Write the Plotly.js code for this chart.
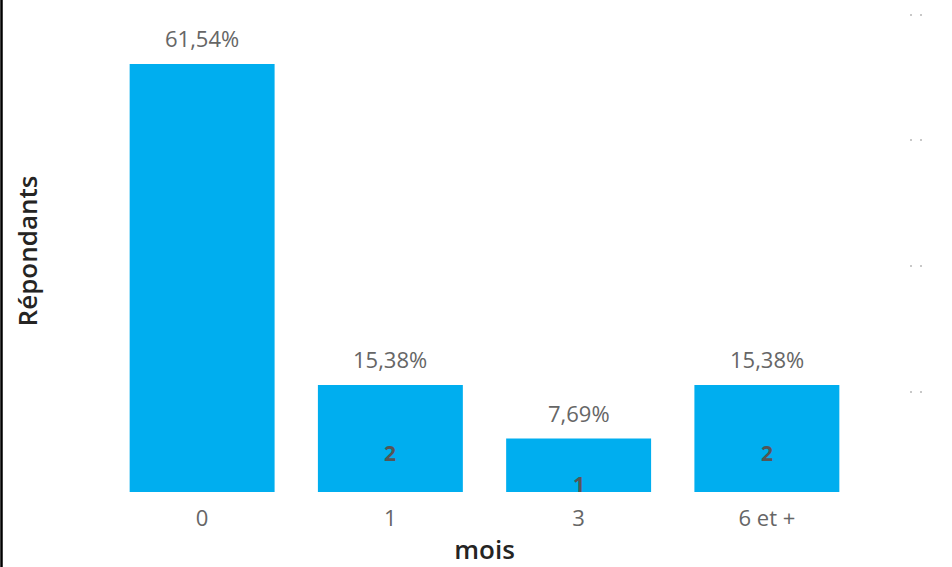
<!DOCTYPE html>
<html>
<head>
<meta charset="utf-8">
<script src="https://cdn.plot.ly/plotly-3.0.1.min.js"></script>
<style>html,body{margin:0;padding:0;background:#fff;}#chart{width:952px;height:567px;}</style>
</head>
<body>
<div id="chart"></div>
<script>
// ---- data ----
var categories = ["0", "1", "3", "6 et +"];
var respondents = [8, 2, 1, 2];
var innerLabels = ["", "2", "1", "2"];
var xTitle = "mois";
var yTitle = "Répondants";

// ---- derived ----
var total = respondents.reduce(function (a, b) { return a + b; }, 0);
var pctLabels = respondents.map(function (v) {
  return (v / total * 100).toFixed(2).replace('.', ',') + '%';
});

// ---- layout constants ----
var W = 952, H = 567;
var M = {l: 108, r: 91, t: 10, b: 75};
var PW = W - M.l - M.r, PH = H - M.t - M.b;
function px(x) { return (x - M.l) / PW; }
function py(y) { return (H - M.b - y) / PH; }

var innerShift = [0, 39, 8, 39];
var annotations = [];
categories.forEach(function (c, i) {
  annotations.push({
    x: i, y: respondents[i], xref: 'x', yref: 'y',
    text: pctLabels[i], showarrow: false, yanchor: 'middle', yshift: 26,
    font: {family: 'Open Sans, sans-serif', size: 22, color: '#666666'}
  });
  if (innerLabels[i]) {
    annotations.push({
      x: i, y: 0, xref: 'x', yref: 'y',
      text: '<b>' + innerLabels[i] + '</b>', showarrow: false, yanchor: 'middle', yshift: innerShift[i],
      font: {family: 'Open Sans, sans-serif', size: 21, color: '#555555'}
    });
  }
});

var shapes = [{
  type: 'line', xref: 'paper', yref: 'paper',
  x0: px(1.5), x1: px(1.5), y0: py(0), y1: py(H),
  line: {color: '#000000', width: 2.5}
}];
[15, 140, 266, 392].forEach(function (yy) {
  [911, 921].forEach(function (xx) {
    shapes.push({
      type: 'rect', xref: 'paper', yref: 'paper',
      x0: px(xx - 1), x1: px(xx + 1), y0: py(yy + 1), y1: py(yy - 1),
      fillcolor: '#c8c8c8', line: {width: 0}
    });
  });
});

var trace = {
  type: 'bar',
  x: categories,
  y: respondents,
  marker: {color: '#00AEEF'},
  hoverinfo: 'none'
};

var layout = {
  width: W, height: H,
  margin: M,
  paper_bgcolor: '#ffffff', plot_bgcolor: '#ffffff',
  bargap: 0.23,
  showlegend: false,
  font: {family: 'Open Sans, sans-serif'},
  xaxis: {
    type: 'category',
    range: [-0.5, 3.5],
    showgrid: false, zeroline: false, showline: false,
    ticks: 'outside', ticklen: 7, tickcolor: 'rgba(0,0,0,0)',
    tickfont: {family: 'Open Sans, sans-serif', size: 22, color: '#666666'},
    title: {text: xTitle, standoff: 11, font: {family: 'Open Sans, sans-serif', size: 26, color: '#252423', weight: 600}},
    automargin: false,
    fixedrange: true
  },
  yaxis: {
    range: [0, PH / 53.5],
    showgrid: false, zeroline: false, showline: false,
    showticklabels: false, ticks: '',
    title: {text: yTitle, standoff: 61, font: {family: 'Open Sans, sans-serif', size: 26, color: '#252423', weight: 600}},
    automargin: false,
    fixedrange: true
  },
  annotations: annotations,
  shapes: shapes
};

Plotly.newPlot('chart', [trace], layout, {staticPlot: true, displayModeBar: false});
</script>
</body>
</html>
